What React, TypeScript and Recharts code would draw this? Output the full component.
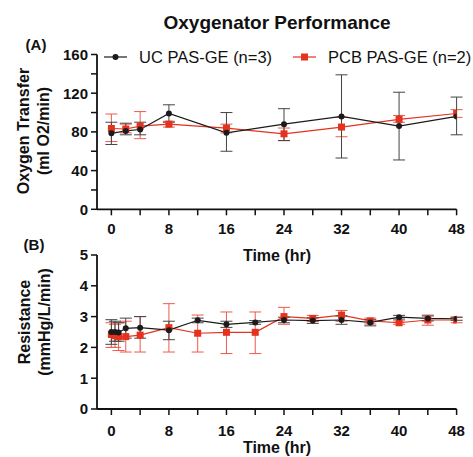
import React from 'react';
import { LineChart, Line, XAxis, YAxis, ErrorBar } from 'recharts';

// Panel A: oxygen transfer (ml O2/min)
const o2Times = [0, 2, 4, 8, 16, 24, 32, 40, 48];
const ucO2 = [78.5, 81, 82.5, 99, 79, 88, 96, 86, 96];
const ucO2Low = [67, 77, 77, 90, 60, 71, 53, 51, 77];
const ucO2High = [90, 89, 90, 108, 100, 104, 139, 121, 116];
const pcbO2 = [83.5, 83, 86, 88, 84, 78, 85, 93, 99];
const pcbO2Low = [70, 79, 73, 85, 79, 71, 75, 90, 95];
const pcbO2High = [98.5, 88, 101, 91, 88, 84, 95, 97, 103];

// Panel B: resistance (mmHg/L/min)
const resTimes = [0, 0.5, 1, 2, 4, 8, 12, 16, 20, 24, 28, 32, 36, 40, 44, 48];
const ucRes = [2.5, 2.5, 2.48, 2.62, 2.64, 2.56, 2.88, 2.75, 2.81, 2.89, 2.87, 2.89, 2.81, 2.98, 2.94, 2.93];
const ucResLow = [2.1, 2.2, 2.2, 2.3, 2.3, 2.25, 2.8, 2.65, 2.75, 2.8, 2.78, 2.75, 2.7, 2.92, 2.86, 2.88];
const ucResHigh = [2.9, 2.85, 2.8, 2.95, 3.0, 2.85, 2.95, 2.85, 2.87, 2.98, 2.96, 3.02, 2.9, 3.04, 3.02, 2.98];
const pcbRes = [2.42, 2.38, 2.35, 2.35, 2.4, 2.64, 2.46, 2.49, 2.49, 3.0, 2.94, 3.05, 2.86, 2.8, 2.89, 2.89];
const pcbResLow = [2.0, 2.0, 1.9, 1.85, 1.85, 1.85, 1.85, 1.8, 1.8, 2.75, 2.84, 2.85, 2.76, 2.75, 2.72, 2.8];
const pcbResHigh = [2.8, 2.75, 2.8, 2.85, 3.0, 3.42, 3.05, 3.15, 3.15, 3.3, 3.04, 3.2, 2.95, 2.86, 3.05, 2.98];

const timeTicks = [0, 4, 8, 12, 16, 20, 24, 28, 32, 36, 40, 44, 48];
const o2Ticks = [0, 20, 40, 60, 80, 100, 120, 140, 160];
const resTicks = [0, 1, 2, 3, 4, 5];

const build = (times: number[], uc: number[], ucLo: number[], ucHi: number[], pcb: number[], pcbLo: number[], pcbHi: number[]) =>
  times.map((t, i) => ({
    t,
    uc: uc[i],
    ucErr: [uc[i] - ucLo[i], ucHi[i] - uc[i]],
    pcb: pcb[i],
    pcbErr: [pcb[i] - pcbLo[i], pcbHi[i] - pcb[i]],
  }));

const o2Data = build(o2Times, ucO2, ucO2Low, ucO2High, pcbO2, pcbO2Low, pcbO2High);
const resData = build(resTimes, ucRes, ucResLow, ucResHigh, pcbRes, pcbResLow, pcbResHigh);

const FONT = '"Liberation Sans", Arial, sans-serif';
const BLACK = '#1b1b1b';
const RED = '#e5321f';

const tickStyle = { fill: '#111', fontSize: 15, fontWeight: 700, fontFamily: FONT };

const RedSquare = (props: any) => {
  const { cx, cy, index } = props;
  if (cx == null || cy == null) return null;
  return <rect key={`sq-${index}`} x={cx - 3.5} y={cy - 3.5} width={7} height={7} fill={RED} />;
};

const Text = ({ x, y, children, size = 16, weight = 700, rotate = false }: any) => (
  <div
    style={{
      position: 'absolute',
      left: x,
      top: y,
      transform: `translate(-50%, -50%)${rotate ? ' rotate(-90deg)' : ''}`,
      fontFamily: FONT,
      fontSize: size,
      fontWeight: weight,
      color: '#111',
      whiteSpace: 'nowrap',
      lineHeight: 1,
    }}
  >
    {children}
  </div>
);

const Panel = ({ data, yDomain, yTicks, yLabelEvery, height, margin, tickMargin }: any) => (
  <LineChart width={473} height={height} data={data} margin={margin}>
    <XAxis
      type="number"
      dataKey="t"
      domain={[-2, 48]}
      ticks={timeTicks}
      interval={0}
      tickFormatter={(v: number) => (v % 8 === 0 ? String(v) : '')}
      tick={tickStyle}
      tickSize={6}
      tickMargin={tickMargin}
      height={40}
      axisLine={{ stroke: '#111', strokeWidth: 1.8 }}
      tickLine={{ stroke: '#111', strokeWidth: 1.5 }}
      allowDataOverflow
    />
    <YAxis
      type="number"
      domain={yDomain}
      ticks={yTicks}
      interval={0}
      tickFormatter={(v: number) => (v % yLabelEvery === 0 ? String(v) : '')}
      tick={tickStyle}
      tickSize={6}
      tickMargin={3}
      width={40}
      axisLine={{ stroke: '#111', strokeWidth: 1.8 }}
      tickLine={{ stroke: '#111', strokeWidth: 1.5 }}
    />
    <Line
      dataKey="pcb"
      stroke={RED}
      strokeWidth={1.2}
      dot={RedSquare}
      activeDot={false}
      isAnimationActive={false}
    >
      <ErrorBar dataKey="pcbErr" direction="y" width={6} stroke="#ee5a4c" strokeWidth={1} />
    </Line>
    <Line
      dataKey="uc"
      stroke={BLACK}
      strokeWidth={1.2}
      dot={{ r: 3, fill: BLACK, stroke: BLACK, strokeWidth: 0 }}
      activeDot={false}
      isAnimationActive={false}
    >
      <ErrorBar dataKey="ucErr" direction="y" width={6} stroke="#444" strokeWidth={1} />
    </Line>
  </LineChart>
);

export default function App() {
  return (
    <div style={{ position: 'absolute', left: 0, top: 0, width: 473, height: 457, background: '#fff', overflow: 'hidden' }}>
      <div style={{ position: 'absolute', left: 0, top: 0 }}>
        <Panel
          data={o2Data}
          yDomain={[0, 160]}
          yTicks={o2Ticks}
          yLabelEvery={40}
          height={254}
          margin={{ top: 54.5, right: 16.4, bottom: 4.7, left: 57 }}
          tickMargin={8}
        />
      </div>
      <div style={{ position: 'absolute', left: 0, top: 230 }}>
        <Panel
          data={resData}
          yDomain={[0, 5]}
          yTicks={resTicks}
          yLabelEvery={1}
          height={227}
          margin={{ top: 25, right: 16.4, bottom: 8, left: 57 }}
          tickMargin={10}
        />
      </div>

      <Text x={277} y={22} size={19}>Oxygenator Performance</Text>
      <Text x={36} y={44} size={15}>(A)</Text>
      <Text x={34} y={244} size={15}>(B)</Text>

      <Text x={24} y={131} rotate>Oxygen Transfer</Text>
      <Text x={44} y={131} rotate>(ml O2/min)</Text>
      <Text x={25} y={322} rotate>Resistance</Text>
      <Text x={45} y={322} rotate>(mmHg/L/min)</Text>

      <Text x={277} y={256}>Time (hr)</Text>
      <Text x={277} y={448}>Time (hr)</Text>

      {/* legend */}
      <svg style={{ position: 'absolute', left: 0, top: 0 }} width={473} height={80}>
        <line x1={104} y1={57} x2={127} y2={57} stroke={BLACK} strokeWidth={1.2} />
        <circle cx={115.5} cy={57} r={3} fill={BLACK} />
        <line x1={293} y1={57} x2={316} y2={57} stroke={RED} strokeWidth={1.2} />
        <rect x={301} y={53.5} width={7} height={7} fill={RED} />
      </svg>
      <div style={{ position: 'absolute', left: 139, top: 57, transform: 'translateY(-50%)', fontFamily: FONT, fontSize: 16.5, color: '#111', lineHeight: 1, whiteSpace: 'nowrap' }}>
        UC PAS-GE (n=3)
      </div>
      <div style={{ position: 'absolute', left: 328, top: 57, transform: 'translateY(-50%)', fontFamily: FONT, fontSize: 16.5, color: '#111', lineHeight: 1, whiteSpace: 'nowrap' }}>
        PCB PAS-GE (n=2)
      </div>
    </div>
  );
}
